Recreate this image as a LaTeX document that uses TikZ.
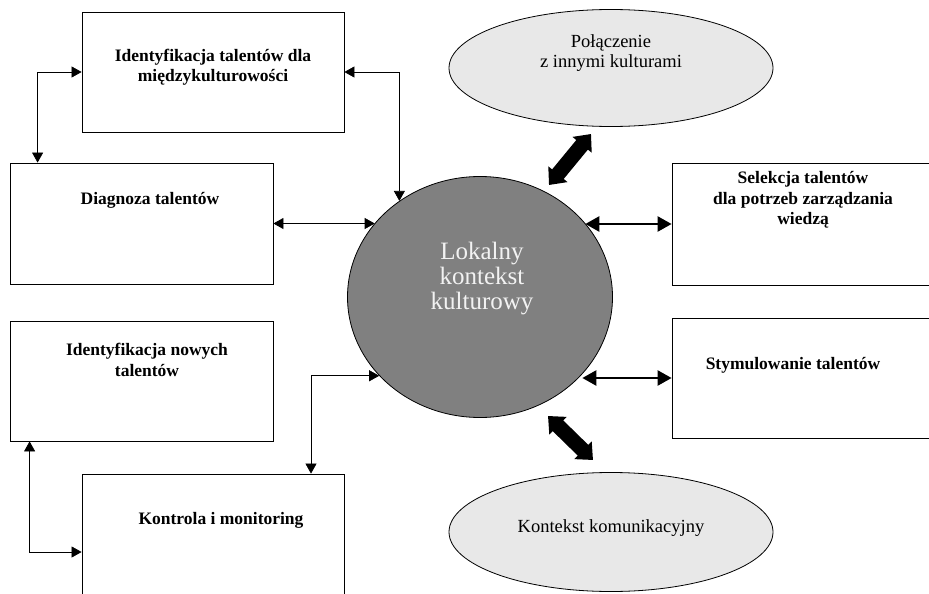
\documentclass[tikz,border=0pt]{standalone}
\usepackage{fontspec}
\setmainfont{Liberation Serif}
\usetikzlibrary{positioning, shapes.geometric, arrows.meta}

\begin{document}
\begin{tikzpicture}[x=1pt, y=-1pt,
	box/.style={draw, line width=.8pt, rectangle, inner sep=0pt},
	boxtext/.style={font=\bfseries\fontsize{17.5}{20.5}\selectfont, align=center, inner sep=0pt},
	oval/.style={draw, line width=.8pt, ellipse, fill=black!9, inner sep=0pt},
	link/.style={<->, >={Triangle[length=10pt, width=11pt]}, line width=.7pt},
	thicklink/.style={<->, >={Triangle[length=14pt, width=15pt]}, line width=2.4pt},
	bigarrow/.style={<->, >={Triangle[length=14pt, width=24pt]}, line width=15pt}]
	\clip (0,0) rectangle (929,594);
	\useasboundingbox (0,0) rectangle (929,594);
	% boxes
	\node[box, minimum width=262pt, minimum height=120pt] (idmk) at (213,72) {};
	\node[box, minimum width=263pt, minimum height=121pt] (diag) at (141.5,223.5) {};
	\node[box, minimum width=263pt, minimum height=120pt] (nowe) at (141.5,381) {};
	\node[box, minimum width=262pt, minimum height=156pt] (kontr) at (213,552) {};
	\node[box, minimum width=268pt, minimum height=122pt] (sel) at (806,224) {};
	\node[box, minimum width=268pt, minimum height=120pt] (stym) at (806,378) {};
	% centre and ovals
	\node[draw, line width=.8pt, ellipse, fill=black!50, minimum width=265pt, minimum height=241pt] (ctx) at (480,297) {};
	\node[oval, minimum width=324pt, minimum height=117pt] (pol) at (611,68) {};
	\node[oval, minimum width=324pt, minimum height=119pt] (kom) at (611,532) {};
	% texts
	\node[boxtext] (idmk-t) at (213,67) {Identyfikacja talentów dla\\międzykulturowości};
	\node[boxtext] (diag-t) at (150,200) {Diagnoza talentów};
	\node[boxtext] (nowe-t) at (147,360) {Identyfikacja nowych\\talentów};
	\node[boxtext] (kontr-t) at (221,520) {Kontrola i monitoring};
	\node[boxtext] (sel-t) at (803,200) {Selekcja talentów\\dla potrzeb zarządzania\\wiedzą};
	\node[boxtext] (stym-t) at (793,365) {Stymulowanie talentów};
	\node[font=\fontsize{25}{25}\selectfont, text=black!5, align=center, inner sep=0pt] (ctx-t) at (482,279) {Lokalny\\kontekst\\kulturowy};
	\node[font=\fontsize{18.5}{20}\selectfont, align=center, inner sep=0pt] (pol-t) at (611,53) {Połączenie\\z innymi kulturami};
	\node[font=\fontsize{18.5}{20}\selectfont, inner sep=0pt] (kom-t) at (611,528) {Kontekst komunikacyjny};
	% connectors
	\draw[link] (idmk.west) -| ([xshift=28pt]diag.north west);
	\draw[link] (idmk.east) -| (ctx.130);
	\draw[link] (diag.east) -- (diag.east -| ctx.145);
	\draw[link] ([xshift=20pt]nowe.south west) |- (kontr.west);
	\draw[link] ([xshift=98pt]kontr.north) |- (ctx.218);
	\draw[thicklink] (sel.west -| ctx.35) -- (sel.west);
	\draw[thicklink] (stym.west -| ctx.-37) -- (stym.west);
	% big arrows
	\coordinate (pol-end) at (591,134);
	\coordinate (ctx-top) at (549,185);
	\coordinate (ctx-bot) at (548,416);
	\coordinate (kom-end) at (593,460);
	\draw[bigarrow] (ctx-top) -- (pol-end);
	\draw[bigarrow] (ctx-bot) -- (kom-end);
\end{tikzpicture}
\end{document}
